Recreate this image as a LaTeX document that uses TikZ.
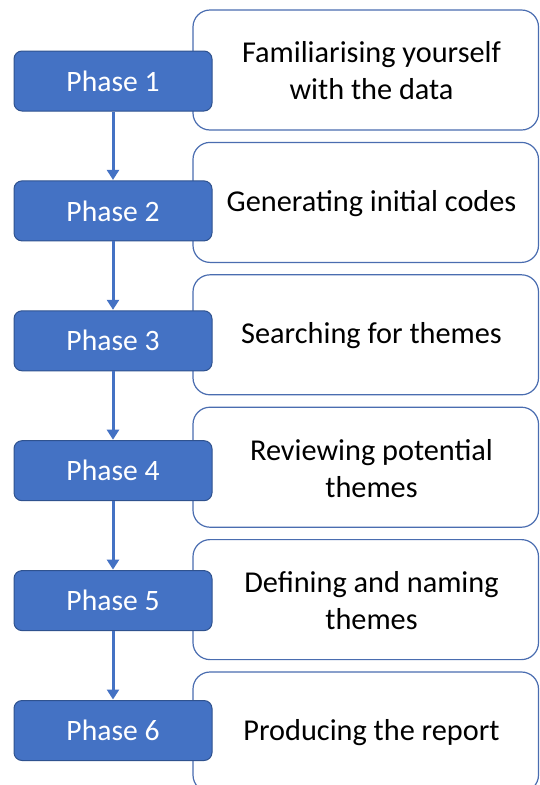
\documentclass[tikz,border=0pt]{standalone}
\usepackage{fontspec}
\setmainfont{Carlito}
\usetikzlibrary{arrows.meta}
\definecolor{phasefill}{HTML}{4472C4}
\definecolor{phaseline}{HTML}{2F528F}
\definecolor{descline}{HTML}{4A6DB0}
\tikzset{
  phasebox/.style={draw=phaseline, line width=1pt, fill=phasefill, rounded corners=8pt,
    minimum width=198pt, minimum height=60pt, inner sep=0pt, text=white,
    font=\fontsize{29.6}{36}\selectfont},
  descbox/.style={draw=descline, line width=1.2pt, fill=white, rounded corners=17pt,
    minimum width=345.5pt, minimum height=120pt, inner sep=0pt},
  desctext/.style={align=center, text=black, inner sep=0pt,
    font=\fontsize{30.3}{37}\selectfont},
  flow/.style={draw=phasefill, line width=3pt, -{Triangle[length=10pt,width=12pt]}, shorten >=0.5pt}
}
\begin{document}
\begin{tikzpicture}[x=1pt,y=-1pt]
\useasboundingbox (0,0) rectangle (539,785);
\clip (0,0) rectangle (539,785);
% description boxes
\foreach \k in {1,...,6}{
  \node[descbox] (d\k) at (365.75,{70+132.4*(\k-1)}) {};
}
\node[desctext] (t1) at (371.5,71) {Familiarising yourself\\with the data};
\node[desctext] (t2) at (371.5,203.4) {Generating initial codes};
\node[desctext] (t3) at (371.5,335.8) {Searching for themes};
\node[desctext] (t4) at (371.5,468.2) {Reviewing potential\\themes};
\node[desctext] (t5) at (371.5,600.6) {Defining and naming\\themes};
\node[desctext] (t6) at (371.5,733) {Producing the report};
% phase boxes
\foreach \k in {1,...,6}{
  \node[phasebox] (p\k) at (113,{81+129.9*(\k-1)}) {Phase \k};
}
\foreach \a/\b in {1/2,2/3,3/4,4/5,5/6}{
  \draw[flow] (p\a.south) -- (p\b.north);
}
\end{tikzpicture}
\end{document}
